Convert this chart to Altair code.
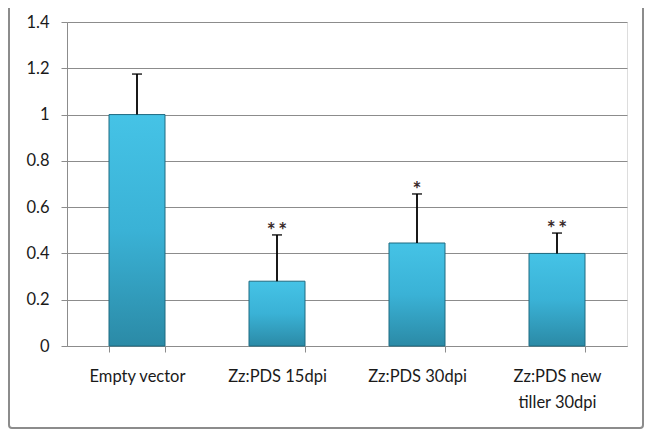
import altair as alt
import pandas as pd

categories = ["Empty vector", "Zz:PDS 15dpi", "Zz:PDS 30dpi", "Zz:PDS new tiller 30dpi"]
means = [1.0, 0.28, 0.445, 0.40]
errors = [0.175, 0.20, 0.212, 0.088]
stars = ["", "*\u2009*", "*", "*\u2009*"]

df = pd.DataFrame({"cat": categories, "mean": means, "err": errors, "star": stars})
df["upper"] = df["mean"] + df["err"]

FONT = "Lato"
W, H = 560, 324

x = alt.X("cat:N", sort=categories, title=None,
          scale=alt.Scale(paddingInner=0.6, paddingOuter=0.3),
          axis=alt.Axis(labelAngle=0, tickBand="extent", labelPadding=16,
                        labelFont=FONT, labelFontSize=16.5, labelColor="#1a1a1a",
                        labelLineHeight=26, domainColor="#8c8c8c", tickColor="#8c8c8c",
                        tickSize=6, labelBaseline="top",
                        labelExpr="datum.label == 'Zz:PDS new tiller 30dpi' ? ['Zz:PDS new', 'tiller 30dpi'] : datum.label"))
y = alt.Y("mean:Q", title=None,
          scale=alt.Scale(domain=[0, 1.4], nice=False),
          axis=alt.Axis(values=[0, 0.2, 0.4, 0.6, 0.8, 1.0, 1.2, 1.4], labelFont=FONT,
                        labelFontSize=16.5, labelColor="#1a1a1a", labelPadding=12,
                        gridColor="#8c8c8c", gridWidth=1, domainColor="#8c8c8c",
                        tickColor="#8c8c8c", tickSize=6, labelExpr="format(datum.value, '.1~f')"))

grad = alt.Gradient(gradient="linear",
                    stops=[alt.GradientStop(color="#45c3e6", offset=0),
                           alt.GradientStop(color="#3ab2d6", offset=0.5),
                           alt.GradientStop(color="#2b8aa6", offset=1)],
                    x1=0, x2=0, y1=0, y2=1)

base = alt.Chart(df)

bars = base.mark_bar(fill=grad, stroke="#1f6a80", strokeWidth=1).encode(x=x, y=y)

rule = base.mark_rule(color="black", strokeWidth=1.8).encode(
    x=alt.X("cat:N", sort=categories), y="mean:Q", y2="upper:Q")
cap = base.mark_tick(color="black", thickness=1.8, size=10, orient="horizontal").encode(
    x=alt.X("cat:N", sort=categories), y="upper:Q")
txt = base.mark_text(font=FONT, fontSize=21, fontWeight="bold", color="#3a2a2a",
                     baseline="middle", dy=-3).encode(
    x=alt.X("cat:N", sort=categories), y="upper:Q", text="star:N")

border = alt.Chart(pd.DataFrame({"a": [0]})).mark_rect(
    fill=None, stroke="#8c8c8c", strokeWidth=2, cornerRadius=3).encode(
    x=alt.value(-58), x2=alt.value(576), y=alt.value(-30), y2=alt.value(406))

chart = alt.layer(bars, rule, cap, txt, border).properties(
    width=W, height=H,
    autosize=alt.AutoSizeParams(type="none"),
    padding={"left": 59, "top": 14, "right": 18, "bottom": 84},
).configure_view(stroke=None).configure(background="white")

chart.save("out.html", embed_options={"renderer": "svg", "actions": False})
